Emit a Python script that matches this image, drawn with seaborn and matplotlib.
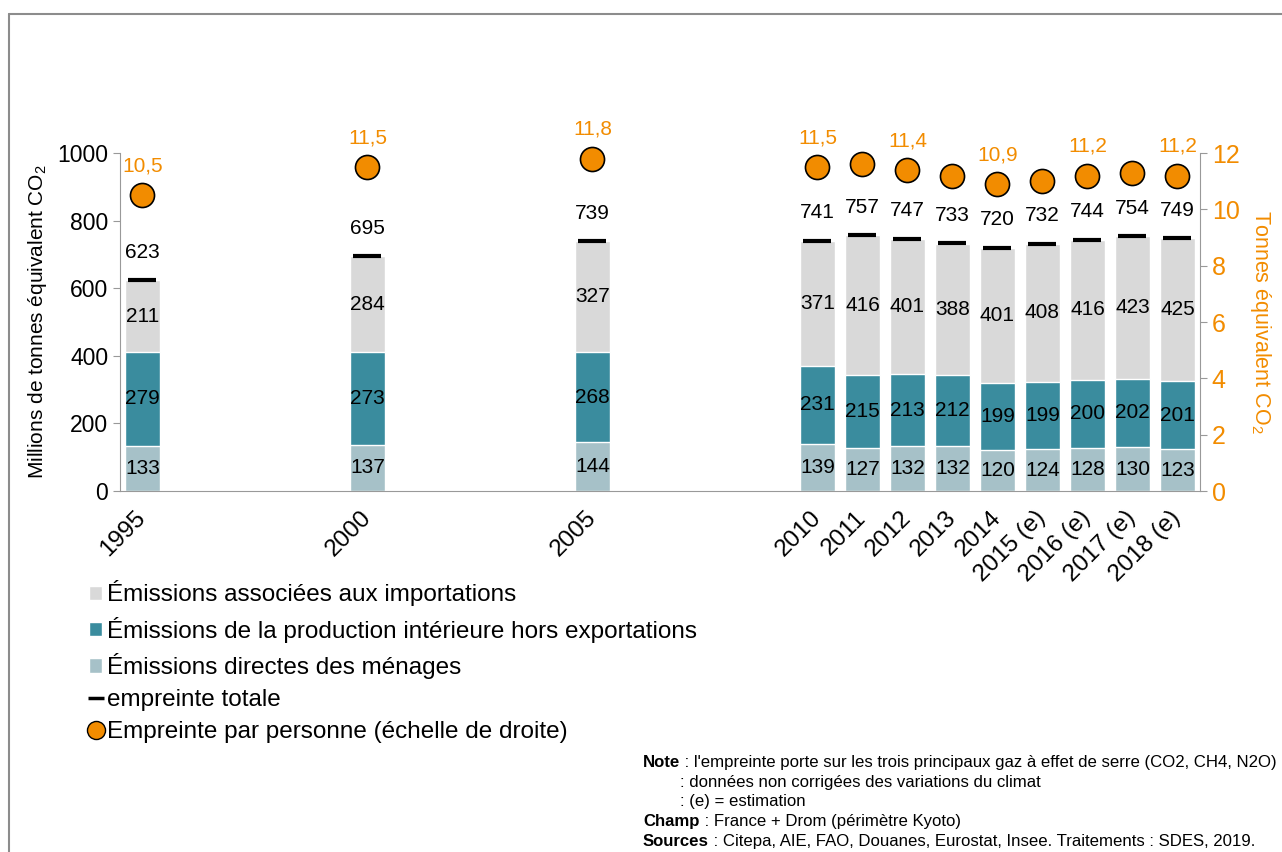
import numpy as np
import pandas as pd
import seaborn as sns
import matplotlib.pyplot as plt
from matplotlib.lines import Line2D
from matplotlib.patches import Patch

# data
years = [1995, 2000, 2005, 2010, 2011, 2012, 2013, 2014, 2015, 2016, 2017, 2018]
year_labels = ["1995", "2000", "2005", "2010", "2011", "2012", "2013", "2014",
               "2015 (e)", "2016 (e)", "2017 (e)", "2018 (e)"]
menages = [133, 137, 144, 139, 127, 132, 132, 120, 124, 128, 130, 123]
production = [279, 273, 268, 231, 215, 213, 212, 199, 199, 200, 202, 201]
importations = [211, 284, 327, 371, 416, 401, 388, 401, 408, 416, 423, 425]
totale = [623, 695, 739, 741, 757, 747, 733, 720, 732, 744, 754, 749]
par_personne = [10.5, 11.5, 11.8, 11.5, 11.6, 11.4, 11.2, 10.9, 11.0, 11.2, 11.3, 11.2]
labelled_pp = [1995, 2000, 2005, 2010, 2012, 2014, 2016, 2018]

c_imp = "#d9d9d9"
c_prod = "#3a8c9e"
c_men = "#a6c1c8"
c_orange = "#f28c00"

df = pd.DataFrame({"annee": years, "menages": menages, "production": production,
                   "importations": importations, "totale": totale, "pp": par_personne})
df["top2"] = df["menages"] + df["production"]
df["top3"] = df["top2"] + df["importations"]

sns.set_style("white")
plt.rcParams["font.family"] = ["Liberation Sans", "DejaVu Sans"]
plt.rcParams["mathtext.fontset"] = "custom"
plt.rcParams["mathtext.rm"] = "Liberation Sans"
plt.rcParams["text.color"] = "black"
plt.rcParams["axes.labelcolor"] = "black"
plt.rcParams["xtick.labelcolor"] = "black"
plt.rcParams["ytick.labelcolor"] = "black"

fig = plt.figure(figsize=(12.82, 8.52), dpi=100)
ax = fig.add_axes([0.0936, 0.4237, 0.8424, 0.3967])

# stacked bars drawn from top segment down
sns.barplot(data=df, x="annee", y="top3", native_scale=True, color=c_imp,
            width=0.78, saturation=1, ax=ax, zorder=2)
sns.barplot(data=df, x="annee", y="top2", native_scale=True, color=c_prod,
            width=0.78, saturation=1, ax=ax, zorder=2)
sns.barplot(data=df, x="annee", y="menages", native_scale=True, color=c_men,
            width=0.78, saturation=1, ax=ax, zorder=2)
sns.scatterplot(data=df, x="annee", y="totale", marker="_", s=400, linewidth=3,
                color="black", ax=ax, zorder=4)

fs = 15
for _, r in df.iterrows():
    ax.text(r.annee, r.menages / 2, f"{r.menages:.0f}", ha="center", va="center", fontsize=fs)
    ax.text(r.annee, r.menages + r.production / 2, f"{r.production:.0f}",
            ha="center", va="center", fontsize=fs)
    ax.text(r.annee, r.top2 + r.importations / 2, f"{r.importations:.0f}",
            ha="center", va="center", fontsize=fs)
    ax.annotate(f"{r.totale:.0f}", (r.annee, r.totale), xytext=(0, 20),
                textcoords="offset points", ha="center", va="center", fontsize=fs)

ax.set_xlim(1994.5, 2018.5)
ax.set_ylim(0, 1000)
ax.set_yticks(range(0, 1001, 200))
ax.set_xticks(years)
ax.set_xticklabels(year_labels, rotation=45, ha="right", va="center",
                   rotation_mode="anchor", fontsize=17.5)
ax.set_xticks(np.arange(1994.5, 2018.6, 1), minor=True)
ax.tick_params(axis="x", which="major", length=0, pad=17, labelcolor="black")
ax.tick_params(axis="x", which="minor", length=5, color="#999999", direction="out")
ax.tick_params(axis="y", length=5, color="#999999", labelsize=16.5, direction="out",
               labelcolor="black")
ax.set_xlabel("")
ax.set_ylabel("Millions de tonnes équivalent CO$_2$", fontsize=15, labelpad=6)
for s in ["top", "right"]:
    ax.spines[s].set_visible(False)
for s in ["left", "bottom"]:
    ax.spines[s].set_color("#999999")

ax2 = ax.twinx()
sns.scatterplot(data=df, x="annee", y="pp", s=300, color=c_orange, edgecolor="black",
                linewidth=1.2, ax=ax2, zorder=5, clip_on=False)
for _, r in df.iterrows():
    if r.annee in labelled_pp:
        ax2.annotate(f"{r.pp:.1f}".replace(".", ","), (r.annee, r.pp), xytext=(0, 21),
                     textcoords="offset points", ha="center", va="center",
                     fontsize=15, color=c_orange)
ax2.set_ylim(0, 12)
ax2.set_yticks(range(0, 13, 2))
ax2.tick_params(axis="y", length=5, color="#999999", labelsize=18,
                labelcolor=c_orange, direction="out")
ax2.set_ylabel("Tonnes équivalent CO$_2$", fontsize=15.5, color=c_orange,
               rotation=-90, labelpad=24)
for s in ["top", "left", "bottom"]:
    ax2.spines[s].set_visible(False)
ax2.spines["right"].set_color("#999999")
ax2.set_xlabel("")

handles = [
    Patch(facecolor=c_imp, label="Émissions associées aux importations"),
    Patch(facecolor=c_prod, label="Émissions de la production intérieure hors exportations"),
    Patch(facecolor=c_men, label="Émissions directes des ménages"),
    Line2D([], [], color="black", marker="_", linestyle="none", markersize=12,
           markeredgewidth=2.5, label="empreinte totale"),
    Line2D([], [], color=c_orange, marker="o", linestyle="none", markersize=13,
           markeredgecolor="black", label="Empreinte par personne (échelle de droite)"),
]
fig.legend(handles=handles, loc="upper left", bbox_to_anchor=(0.060, 0.333),
           frameon=False, fontsize=17.5, handlelength=0.55, handleheight=0.55,
           handletextpad=0.2, labelspacing=0.42, borderpad=0)

notes = [
    ("Note", " : l'empreinte porte sur les trois principaux gaz à effet de serre (CO2, CH4, N2O)", 770),
    ("", "        : données non corrigées des variations du climat", 790),
    ("", "        : (e) = estimation", 809),
    ("Champ", " : France + Drom (périmètre Kyoto)", 829),
    ("Sources", " : Citepa, AIE, FAO, Douanes, Eurostat, Insee. Traitements : SDES, 2019.", 849),
]
for bold, rest, ypix in notes:
    t = fig.text(643 / 1282, 1 - ypix / 852, bold, fontsize=12.1, fontweight="bold",
                 va="bottom", ha="left")
    ax.annotate(rest, xy=(1, 0), xycoords=t, va="bottom", ha="left", fontsize=12.1,
                annotation_clip=False)

# frame
fig.add_artist(Line2D([9 / 1282, 9 / 1282], [0, 1 - 14 / 852], color="#8c8c8c", lw=1.5))
fig.add_artist(Line2D([9 / 1282, 1], [1 - 14 / 852, 1 - 14 / 852], color="#8c8c8c", lw=1.5))

fig.savefig("out.png", dpi=100)
